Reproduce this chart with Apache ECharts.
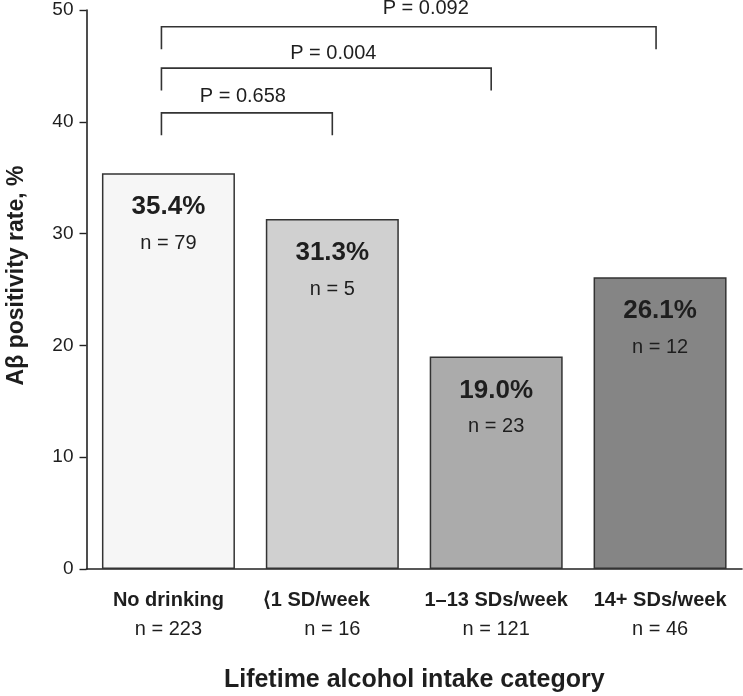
<!DOCTYPE html>
<html><head><meta charset="utf-8">
<script src="https://cdn.jsdelivr.net/npm/echarts@6/dist/echarts.min.js"></script>
<style>html,body{margin:0;padding:0;background:#fff}#chart{width:743px;height:696px}</style>
</head><body><div id="chart"></div>
<script>
// ---- data ----
const categories = ['No drinking', '⟨1 SD/week', '1–13 SDs/week', '14+ SDs/week'];
const categoryN = [223, 16, 121, 46];
const positivityRate = [35.4, 31.3, 19.0, 26.1];
const positiveN = [79, 5, 23, 12];
const yTicks = [0, 10, 20, 30, 40, 50];
const bracketFrom = [0, 0, 0];
const bracketTo = [1, 2, 3];
const bracketLevel = [40.8, 44.8, 48.5];
const bracketLegLength = 2.0;
const pValues = ['P = 0.658', 'P = 0.004', 'P = 0.092'];

// ---- styles / layout ----
const barColors = ['#f6f6f6', '#d0d0d0', '#ababab', '#858585'];
const FONT = '"Liberation Sans", Arial, Helvetica, sans-serif';
const TXT = '#1e1e1e';
const legDxLeft = -7;
const legDxRight = [0, -5, -4];
const labelDx = [-4, 7, 17];
const labelDy = [-16, -15, -18];

const chart = echarts.init(document.getElementById('chart'), null, {renderer: 'canvas'});

const bracketData = bracketFrom.map((f, i) => [f, bracketTo[i], bracketLevel[i], bracketLevel[i] - bracketLegLength, i]);

chart.setOption({
  animation: false,
  backgroundColor: '#fff',
  textStyle: {fontFamily: FONT},
  grid: {left: 86.5, right: 1, top: 10, bottom: 127, containLabel: false, outerBoundsMode: 'none'},
  xAxis: {
    type: 'category',
    data: categories,
    axisLine: {lineStyle: {color: '#222', width: 1.6}},
    axisTick: {show: false},
    axisLabel: {
      margin: 17,
      interval: 0,
      formatter: (v, idx) => (idx === 1 ? `{c2|${v}}` : `{c|${v}}`) + `\n{n|n = ${categoryN[idx]}}`,
      rich: {
        c: {fontSize: 20, fontWeight: 'bold', color: TXT, lineHeight: 29, fontFamily: FONT},
        c2: {fontSize: 20, fontWeight: 'bold', color: TXT, lineHeight: 29, fontFamily: FONT, padding: [0, 32, 0, 0]},
        n: {fontSize: 20, color: TXT, lineHeight: 29, fontFamily: FONT}
      }
    },
    name: 'Lifetime alcohol intake category',
    nameLocation: 'middle',
    nameGap: 99,
    nameTextStyle: {fontSize: 25, fontWeight: 'bold', color: TXT, fontFamily: FONT}
  },
  yAxis: {
    type: 'value',
    min: yTicks[0],
    max: yTicks[yTicks.length - 1],
    interval: yTicks[1] - yTicks[0],
    axisLine: {show: true, lineStyle: {color: '#222', width: 1.6}},
    axisTick: {show: true, length: 7, lineStyle: {color: '#222', width: 1.4}},
    splitLine: {show: false},
    axisLabel: {margin: 13, fontSize: 19, color: TXT, fontFamily: FONT},
    name: 'Aβ positivity rate, %',
    nameLocation: 'middle',
    nameGap: 58,
    nameTextStyle: {fontSize: 23, fontWeight: 'bold', color: TXT, fontFamily: FONT, padding: [0, 0, 0, 28]}
  },
  series: [
    {
      type: 'bar',
      barWidth: 133,
      data: positivityRate.map((v, i) => ({value: v, itemStyle: {color: barColors[i]}})),
      itemStyle: {borderColor: '#333', borderWidth: 1.5},
      label: {
        show: true,
        position: 'insideTop',
        distance: 16,
        formatter: p => `{a|${p.value.toFixed(1)}%}\n{b|n = ${positiveN[p.dataIndex]}}`,
        rich: {
          a: {fontSize: 26, fontWeight: 'bold', lineHeight: 36, color: TXT, fontFamily: FONT},
          b: {fontSize: 20, lineHeight: 36, color: TXT, fontFamily: FONT}
        }
      }
    },
    {
      type: 'custom',
      coordinateSystem: 'cartesian2d',
      clip: false,
      silent: true,
      encode: {x: [0, 1], y: [2, 3]},
      data: bracketData,
      renderItem: (params, api) => {
        const i = api.value(4);
        const pL = api.coord([api.value(0), api.value(2)]);
        const pR = api.coord([api.value(1), api.value(2)]);
        const yLow = api.coord([api.value(0), api.value(3)])[1];
        const xl = pL[0] + legDxLeft;
        const xr = pR[0] + legDxRight[i];
        const y = pL[1];
        return {
          type: 'group',
          children: [
            {type: 'polyline', shape: {points: [[xl, yLow], [xl, y], [xr, y], [xr, yLow]]},
             style: {stroke: '#333', lineWidth: 1.6, fill: null}},
            {type: 'text', x: (xl + xr) / 2 + labelDx[i], y: y + labelDy[i],
             style: {text: pValues[i], font: '20px ' + FONT, fill: TXT, align: 'center', verticalAlign: 'middle'}}
          ]
        };
      }
    }
  ]
});
</script></body></html>
